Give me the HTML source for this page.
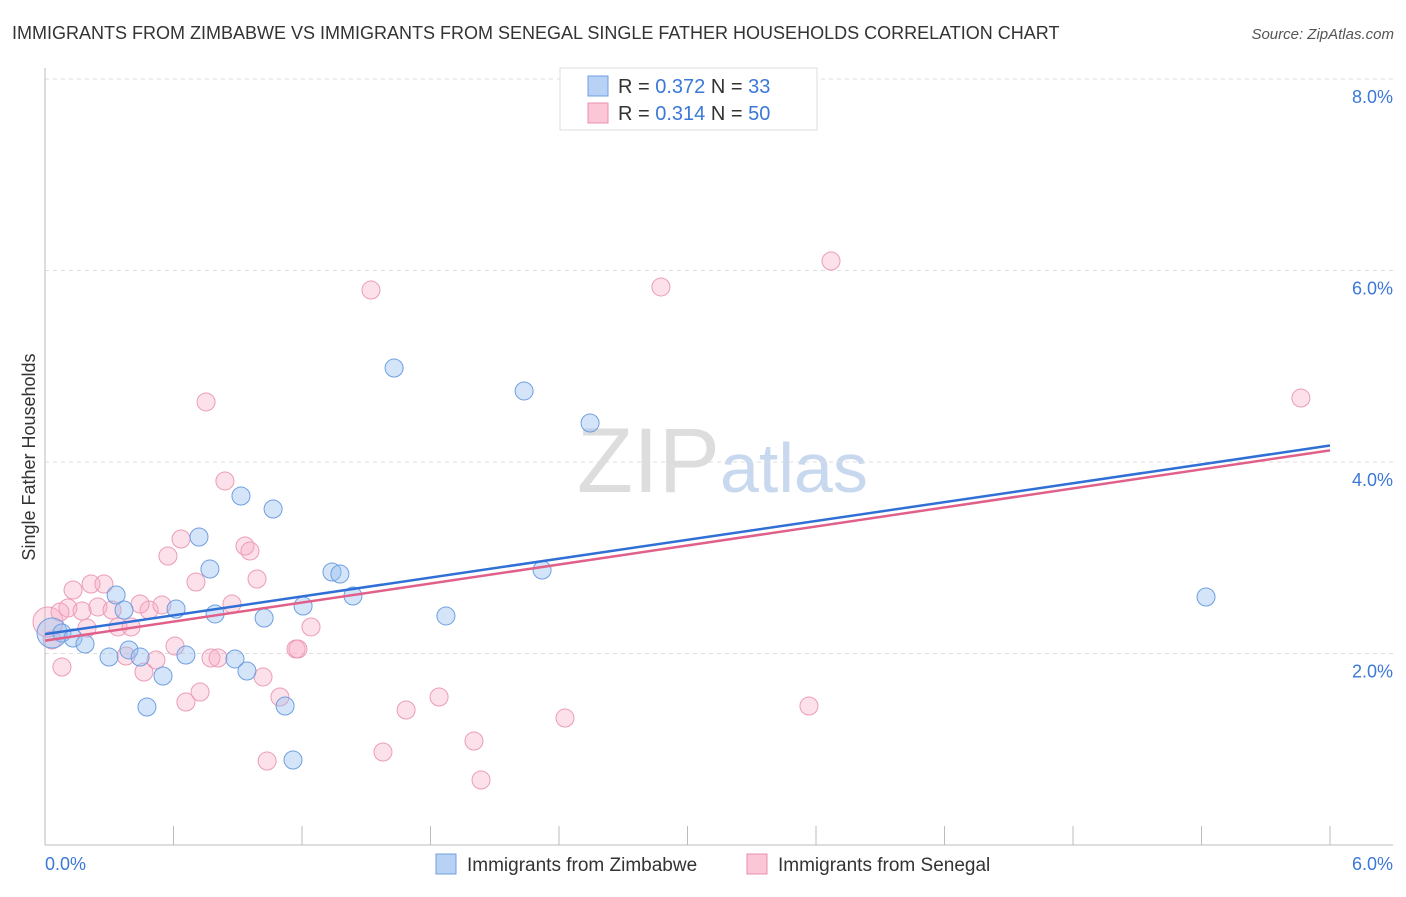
<!DOCTYPE html>
<html><head><meta charset="utf-8"><style>
body{margin:0;background:#fff;font-family:"Liberation Sans",sans-serif}
svg text{font-family:"Liberation Sans",sans-serif}
</style></head><body>
<svg id="c" width="1406" height="892">
<text x="12" y="39" font-size="18" fill="#333">IMMIGRANTS FROM ZIMBABWE VS IMMIGRANTS FROM SENEGAL SINGLE FATHER HOUSEHOLDS CORRELATION CHART</text>
<text x="1394" y="39" font-size="15" fill="#555" text-anchor="end" font-style="italic">Source: ZipAtlas.com</text>
<text x="35" y="457" font-size="18" fill="#333" text-anchor="middle" transform="rotate(-90 35 457)">Single Father Households</text>
<text x="720" y="492" font-size="92" fill="#ddd" text-anchor="end" font-family="Liberation Serif">ZIP</text>
<text x="720" y="492" font-size="70" fill="#c8d8ee">atlas</text>
<g id="grid"></g><g id="pts"></g><g id="lines"></g>
<g>
<rect x="560" y="68" width="257" height="62" fill="#fff" stroke="#ddd"/>
<rect x="588" y="76" width="20" height="20" fill="#b8d2f5" stroke="#6f9fe0"/>
<rect x="588" y="103" width="20" height="20" fill="#fbc6d5" stroke="#e890ac"/>
<text x="618" y="93" font-size="20" fill="#333">R = <tspan fill="#3b78d8">0.372</tspan>   N = <tspan fill="#3b78d8">33</tspan></text>
<text x="618" y="120" font-size="20" fill="#333">R = <tspan fill="#3b78d8"> 0.314</tspan>   N = <tspan fill="#3b78d8">50</tspan></text>
</g>
<g>
<rect x="436" y="854" width="20" height="20" fill="#b8d2f5" stroke="#6f9fe0"/>
<text x="467" y="871" font-size="19" fill="#333">Immigrants from Zimbabwe</text>
<rect x="747" y="854" width="20" height="20" fill="#fbc6d5" stroke="#e890ac"/>
<text x="778" y="871" font-size="19" fill="#333">Immigrants from Senegal</text>
</g>
</svg>
<script>
const zimX=[0.033,0.079,0.131,0.187,0.299,0.332,0.369,0.392,0.444,0.476,0.551,0.612,0.658,0.719,0.770,0.794,0.887,0.915,0.943,1.023,1.065,1.121,1.158,1.205,1.340,1.377,1.438,1.630,1.872,2.237,2.321,2.545,5.421];
const zimY=[2.214,2.214,2.162,2.099,1.963,2.611,2.454,2.037,1.963,1.441,1.765,2.465,1.984,3.217,2.882,2.413,1.943,3.645,1.817,2.371,3.509,1.452,0.888,2.496,2.851,2.830,2.600,4.982,2.392,4.742,2.872,4.407,2.590];
const senX=[0.014,0.033,0.079,0.131,0.107,0.173,0.196,0.215,0.247,0.275,0.313,0.341,0.378,0.402,0.462,0.486,0.518,0.546,0.574,0.607,0.635,0.658,0.705,0.724,0.752,0.775,0.808,0.840,0.873,0.934,0.957,0.990,1.018,1.037,1.097,1.172,1.181,1.242,1.522,1.578,1.686,1.840,2.003,2.036,2.428,2.876,3.567,3.670,5.864,0.070,0.444];
const senY=[2.329,2.141,1.859,2.663,2.475,2.444,2.266,2.726,2.486,2.726,2.454,2.277,1.974,2.277,1.807,2.454,1.932,2.507,3.018,2.078,3.196,1.493,2.747,1.598,4.627,1.953,1.953,3.802,2.517,3.123,3.070,2.778,1.755,0.877,1.546,2.047,2.047,2.277,5.796,0.971,1.410,1.546,1.086,0.679,1.326,5.828,1.452,6.099,4.668,2.433,2.517];
const yTicks=[2,4,6,8];
const yTickLabels=["2.0%","4.0%","6.0%","8.0%"];
const xTickVals=[0,0.6,1.2,1.8,2.4,3.0,3.6,4.2,4.8,5.4,6.0];
const NS="http://www.w3.org/2000/svg";
const sx=v=>45+v*214.17, sy=v=>845-v*95.75;
function mk(t,a,p){const e=document.createElementNS(NS,t);for(const k in a)e.setAttribute(k,a[k]);p.appendChild(e);return e;}
const grid=document.getElementById('grid');
yTicks.forEach((t,i)=>{
 const l=mk('line',{x1:45,x2:1393,y1:sy(t),y2:sy(t),stroke:'#ddd','stroke-dasharray':'4,4'},grid);
 
 
 const tx=mk('text',{x:1393,y:sy(t)+24,'font-size':18,fill:'#3b78d8','text-anchor':'end'},grid);tx.textContent=yTickLabels[i];
 
 
});
let a=mk('line',{x1:45,x2:45,y1:68,y2:845,stroke:'#bbb'},grid);


a=mk('line',{x1:45,x2:1393,y1:845,y2:845,stroke:'#bbb'},grid);


xTickVals.forEach(v=>{const t=mk('line',{x1:sx(v),x2:sx(v),y1:826,y2:845,stroke:'#bbb'},grid);
 
 });
let t=mk('text',{x:45,y:870,'font-size':18,fill:'#3b78d8'},grid);t.textContent='0.0%';


t=mk('text',{x:1393,y:870,'font-size':18,fill:'#3b78d8','text-anchor':'end'},grid);t.textContent='6.0%';


const pts=document.getElementById('pts');
function draw(X,Y,fill,stroke,name){X.forEach((x,i)=>{const c=mk('circle',{cx:sx(x),cy:sy(Y[i]),r:i===0?15:9,fill:fill,stroke:stroke,'stroke-width':1},pts);
 
 });}
draw(senX,senY,'rgba(248,170,195,0.35)','#eb9cb6','senegal-point');
draw(zimX,zimY,'rgba(150,190,240,0.4)','#6f9fe0','zimbabwe-point');
function reg(X,Y){const n=X.length;let mx=0,my=0;X.forEach((x,i)=>{mx+=x;my+=Y[i]});mx/=n;my/=n;let sxy=0,sxx=0;X.forEach((x,i)=>{sxy+=(x-mx)*(Y[i]-my);sxx+=(x-mx)**2});const b=sxy/sxx;return [my-b*mx,b];}
const lines=document.getElementById('lines');
[[zimX,zimY,'#2f6fd6','zimbabwe-trend-line'],[senX,senY,'#e0608a','senegal-trend-line']].forEach(([X,Y,c,n])=>{
 const [a0,b]=reg(X,Y);
 const l=mk('line',{x1:sx(0),y1:sy(a0),x2:sx(6),y2:sy(a0+b*6),stroke:c,'stroke-width':2.5},lines);
 
 
});
</script>
</body></html>
